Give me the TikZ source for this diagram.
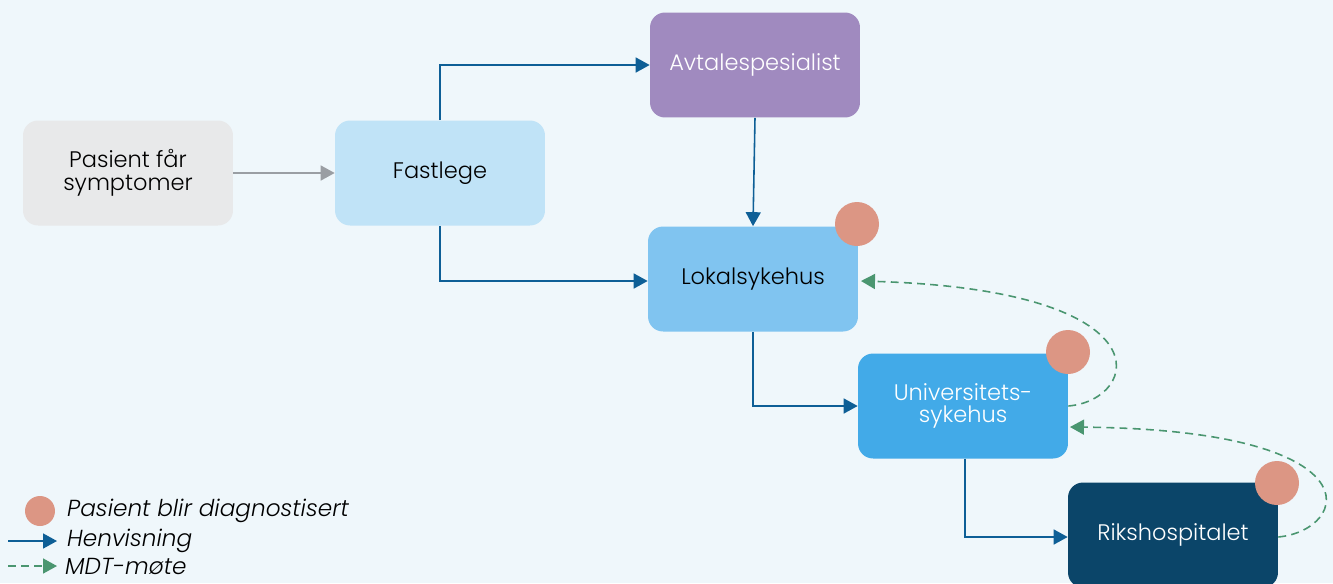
\documentclass[tikz,border=0pt]{standalone}
\usepackage{fontspec}
\setmainfont{Poppins}[UprightFont=* Light, ItalicFont=* Light Italic]
\usetikzlibrary{arrows.meta}
\definecolor{bakgrunn}{HTML}{EFF7FB}
\definecolor{graaboks}{HTML}{E8E9EA}
\definecolor{lysblaa}{HTML}{C0E3F7}
\definecolor{lilla}{HTML}{A08ABF}
\definecolor{midtblaa}{HTML}{80C4F0}
\definecolor{sterkblaa}{HTML}{42AAE8}
\definecolor{moerkblaa}{HTML}{0B4569}
\definecolor{henvis}{HTML}{0E5F96}
\definecolor{mdt}{HTML}{4A9670}
\definecolor{diagnose}{HTML}{DC9684}
\definecolor{graapil}{HTML}{9A9EA3}
\begin{document}
\begin{tikzpicture}[x=0.02cm, y=-0.02cm,
	  boks/.style={rounded corners=0.3cm, minimum width=4.2cm, minimum height=2.1cm,
	    align=center, font=\fontsize{12.8}{13}\selectfont, text=black},
	  merke/.style={circle, fill=diagnose, minimum size=0.88cm, inner sep=0pt},
	  pil/.style={henvis, line width=0.9pt, -{Triangle[length=0.28cm, width=0.3cm]}},
	  mdtpil/.style={mdt, line width=0.9pt, dash pattern=on 4.5pt off 3pt,
	    -{Triangle[length=0.28cm, width=0.3cm]}},
	  forklaring/.style={anchor=west, font=\fontsize{13.2}{14}\selectfont\itshape, text=black}]
	  \fill [bakgrunn] (0,0) rectangle (1333,583);
	  \useasboundingbox (0,0) rectangle (1333,583);

	  \node [boks, fill=graaboks] (pasient) at (128,173) {Pasient får\\symptomer};
	  \node [boks, fill=lysblaa] (fastlege) at (440,173) {Fastlege};
	  \node [boks, fill=lilla, text=white] (avtale) at (755,65) {Avtalespesialist};
	  \node [boks, fill=midtblaa] (lokal) at (753,279) {Lokalsykehus};
	  \node [boks, fill=sterkblaa, text=white] (uni) at (963,406) {Universitets-\\sykehus};
	  \node [boks, fill=moerkblaa, text=white] (riks) at (1173,535) {Rikshospitalet};

	  \node [merke] (merkelokal) at (857,224) {};
	  \node [merke] (merkeuni) at (1068,352) {};
	  \node [merke] (merkeriks) at (1277,483) {};

	  \draw [graapil, line width=0.9pt, -{Triangle[length=0.28cm, width=0.3cm]}] (pasient.east) -- (fastlege.west);
	  \draw [pil] (fastlege.north) |- (avtale.west);
	  \draw [pil] (fastlege.south) |- ([yshift=-0.04cm]lokal.west);
	  \draw [pil] (avtale.south) -- (lokal.north);
	  \draw [pil] (lokal.south) |- (uni.west);
	  \draw [pil] ([xshift=0.04cm]uni.south) |- ([yshift=-0.04cm]riks.west);

	  \coordinate (inn1) at (861,281);
	  \coordinate (inn2) at (1070,427);
	  \draw [mdtpil] (uni.east) .. controls (1140,400) and (1170,290) .. (inn1);
	  \draw [mdtpil] ([yshift=-0.04cm]riks.east) .. controls (1350,530) and (1380,430) .. (inn2);

	  % forklaring
	  \node [merke, minimum size=0.6cm] (tegn1) at (40,511) {};
	  \node [forklaring] (tekst1) at (61,511) {Pasient blir diagnostisert};
	  \coordinate (pilstart) at (8,541);
	  \coordinate (pilslutt) at (57,541);
	  \draw [pil] (pilstart) -- (pilslutt);
	  \node [forklaring] (tekst2) at (61,541) {Henvisning};
	  \coordinate (mdtstart) at (8,566);
	  \coordinate (mdtslutt) at (57,566);
	  \draw [mdtpil] (mdtstart) -- (mdtslutt);
	  \node [forklaring] (tekst3) at (59,566) {MDT-møte};
\end{tikzpicture}
\end{document}
